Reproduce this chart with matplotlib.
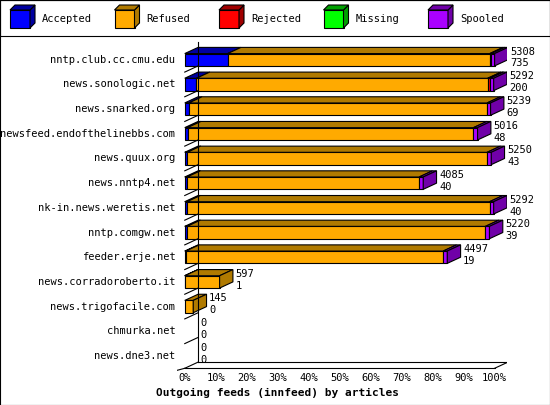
import matplotlib
matplotlib.use('Agg')
import matplotlib.pyplot as plt
from matplotlib.patches import Polygon, Rectangle

plt.rcParams['font.family'] = 'DejaVu Sans Mono'

feeds = ['nntp.club.cc.cmu.edu', 'news.sonologic.net', 'news.snarked.org',
         'newsfeed.endofthelinebbs.com', 'news.quux.org', 'news.nntp4.net',
         'nk-in.news.weretis.net', 'nntp.comgw.net', 'feeder.erje.net',
         'news.corradoroberto.it', 'news.trigofacile.com', 'chmurka.net', 'news.dne3.net']
offered = [5308, 5292, 5239, 5016, 5250, 4085, 5292, 5220, 4497, 597, 145, 0, 0]
accepted = [735, 200, 69, 48, 43, 40, 40, 39, 19, 1, 0, 0, 0]
rejected = [25, 40, 0, 0, 0, 0, 0, 0, 0, 0, 0, 0, 0]
missing = [0, 0, 0, 0, 0, 0, 0, 0, 0, 0, 0, 0, 0]
spooled = [58, 62, 60, 70, 70, 70, 70, 70, 70, 0, 0, 0, 0]
refused = [o - a - r - m - s for o, a, r, m, s in zip(offered, accepted, rejected, missing, spooled)]

names = ['Accepted', 'Refused', 'Rejected', 'Missing', 'Spooled']
colors = ['#0000ff', '#ffaa00', '#ff0000', '#00ff00', '#aa00ff']
darks = ['#0000a0', '#b07a00', '#a00000', '#00a000', '#7000a8']

fig = plt.figure(figsize=(5.5, 4.05), dpi=100)
ax = fig.add_axes([177 / 550, 1 - 372 / 405, 330 / 550, (372 - 40) / 405])
n = len(feeds)
ax.set_xlim(-2.5, 104)
ax.set_ylim(n - 0.35, -0.8)
ax.axis('off')

dx, dy, h = 4.3, 0.25, 0.5
mx = max(offered)
kw = dict(edgecolor='black', linewidth=0.8)

# floor and walls
ax.plot([0, 100], [n - 0.5, n - 0.5], color='black', lw=0.8)
ax.plot([dx, 100 + dx + 4], [n - 0.5 - dy, n - 0.5 - dy], color='black', lw=0.8)
ax.plot([100, 100 + dx], [n - 0.5, n - 0.5 - dy], color='black', lw=0.8)
ax.plot([dx, dx], [n - 0.5 - dy, -0.7], color='black', lw=0.8)
ax.plot([100 + dx, 100 + dx], [n - 0.5 - dy, -0.7], color='black', lw=0.8)
ax.plot([-3, 0], [n - 0.4, n - 0.5], color='black', lw=0.8)
for i in range(n):
    ax.plot([0, dx], [i + 0.5, i + 0.5 - dy], color='black', lw=0.8)
for t in range(0, 101, 10):
    ax.text(t, n - 0.3, f'{t}%', ha='center', va='top', fontsize=7.5)

for i in range(n):
    vals = [accepted[i], refused[i], rejected[i], missing[i], spooled[i]]
    y0, y1 = i + h / 2, i - h / 2
    x = 0.0
    last = None
    for v, c, d in zip(vals, colors, darks):
        if v <= 0:
            continue
        w = v / mx * 100
        ax.add_patch(Rectangle((x, y1), w, h, facecolor=c, **kw))
        ax.add_patch(Polygon([(x, y1), (x + dx, y1 - dy), (x + w + dx, y1 - dy), (x + w, y1)],
                             facecolor=d, **kw))
        x += w
        last = d
    if last:
        ax.add_patch(Polygon([(x, y0), (x, y1), (x + dx, y1 - dy), (x + dx, y0 - dy)],
                             facecolor=last, **kw))
    lx = x + dx + 0.8
    ax.text(lx, i - 0.33, str(offered[i]), fontsize=7.5, va='center')
    ax.text(lx, i + 0.15, str(accepted[i]), fontsize=7.5, va='center')
    ax.text(-3, i, feeds[i], ha='right', va='center', fontsize=7.5)

fig.text(0.505, 0.03, 'Outgoing feeds (innfeed) by articles', ha='center', va='center',
         fontsize=8, fontweight='bold')

# legend strip
lg = fig.add_axes([0, 1 - 36 / 405, 1, 36 / 405])
lg.set_xlim(0, 550)
lg.set_ylim(36, 0)
lg.set_xticks([])
lg.set_yticks([])
for k, (nm, c, d) in enumerate(zip(names, colors, darks)):
    x0 = 10 + k * 104.5
    lg.add_patch(Rectangle((x0, 10), 20, 18, facecolor=c, **kw))
    lg.add_patch(Polygon([(x0 + 20, 10), (x0 + 25, 5), (x0 + 25, 23), (x0 + 20, 28)],
                         facecolor=d, **kw))
    lg.add_patch(Polygon([(x0, 10), (x0 + 5, 5), (x0 + 25, 5), (x0 + 20, 10)],
                         facecolor=d, **kw))
    lg.text(x0 + 32, 19, nm, va='center', fontsize=7.5)

border = fig.add_axes([0, 0, 1, 1], facecolor='none')
border.set_xticks([])
border.set_yticks([])
border.patch.set_alpha(0)

fig.savefig('out.png', dpi=100)
